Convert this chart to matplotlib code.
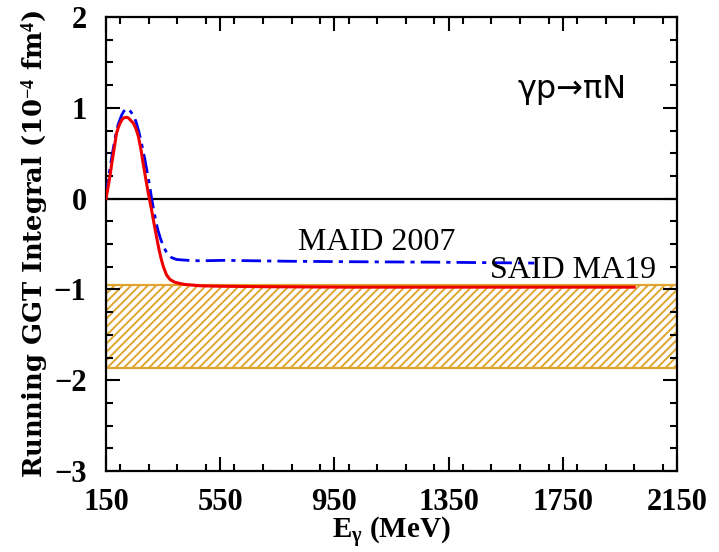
import numpy as np
import matplotlib
matplotlib.use('Agg')
import matplotlib.pyplot as plt
from matplotlib.patches import Rectangle
from matplotlib.ticker import MultipleLocator

plt.rcParams['mathtext.fontset'] = 'custom'
plt.rcParams['mathtext.rm'] = 'Liberation Serif:bold'
plt.rcParams['mathtext.bf'] = 'Liberation Serif:bold'
plt.rcParams['mathtext.it'] = 'Liberation Serif:bold'
plt.rcParams['hatch.linewidth'] = 1.4

# SAID MA19 (red, solid)
said_e = [150, 157, 164, 170, 176, 182, 187, 193, 199, 206, 213, 220, 228, 237, 246,
          255, 263, 272, 280, 286, 292, 297, 302, 310, 318, 327, 335, 343, 351, 362,
          374, 390, 409, 425, 444, 480, 550, 700, 1000, 1300, 1600, 2000]
said_v = [0.0, 0.12, 0.25, 0.38, 0.50, 0.62, 0.72, 0.78, 0.83, 0.87, 0.89, 0.895, 0.89,
          0.86, 0.83, 0.77, 0.69, 0.55, 0.39, 0.28, 0.17, 0.08, 0.0, -0.13, -0.27, -0.42,
          -0.55, -0.66, -0.75, -0.84, -0.89, -0.92, -0.935, -0.945, -0.95, -0.96, -0.965,
          -0.97, -0.975, -0.975, -0.975, -0.975]

# MAID 2007 (blue, dash-dot)
maid_e = [150, 154, 158, 164, 170, 176, 182, 188, 193, 199, 205, 212, 220, 228, 236,
          245, 255, 265, 275, 285, 295, 303, 310, 318, 326, 333, 342, 351, 360, 368,
          380, 397, 415, 438, 480, 561, 794, 1000, 1300, 1650]
maid_v = [0.0, 0.10, 0.21, 0.33, 0.45, 0.56, 0.67, 0.76, 0.82, 0.87, 0.92, 0.96, 0.99,
          0.985, 0.96, 0.92, 0.85, 0.74, 0.60, 0.45, 0.28, 0.14, 0.0, -0.14, -0.27, -0.36,
          -0.45, -0.525, -0.58, -0.62, -0.65, -0.67, -0.675, -0.68, -0.685, -0.68, -0.69,
          -0.695, -0.70, -0.71]

# hatched band (sum-rule value range)
band_lo, band_hi = -1.86, -0.947

xticks = [150, 550, 950, 1350, 1750, 2150]
yticks = [-3, -2, -1, 0, 1, 2]

fig = plt.figure(figsize=(7.19, 5.52), dpi=100)
ax = fig.add_axes([0.1474, 0.1467, 0.7942, 0.8225])

ax.add_patch(Rectangle((150, band_lo), 2000, band_hi - band_lo, facecolor='none',
                       edgecolor='#E0A530', hatch='////', lw=1.6, zorder=1))
ax.axhline(0, color='black', lw=1.6, zorder=2)
ax.plot(maid_e, maid_v, color='#0000EE', lw=2, dashes=(7, 2.2, 1.5, 2.2), zorder=3)
ax.plot(said_e, said_v, color='#EE0000', lw=2.2, zorder=4)

ax.text(822, -0.48, 'MAID 2007', family='Liberation Serif', fontsize=23, va='center')
ax.text(1495, -0.79, 'SAID MA19', family='Liberation Serif', fontsize=23, va='center')
ax.text(1590, 1.2, 'γp→πN', family='DejaVu Sans', fontsize=23, va='center')

ax.set_xlim(150, 2150)
ax.set_ylim(-3, 2)
ax.set_xticks(xticks)
ax.set_yticks(yticks)
ax.xaxis.set_minor_locator(MultipleLocator(100))
ax.yaxis.set_minor_locator(MultipleLocator(0.25))
ax.set_xticklabels([str(t) for t in xticks], family='Liberation Serif', fontweight='bold', fontsize=22)
ax.set_yticklabels([str(t).replace('-', '\u2212') for t in yticks], family='Liberation Serif',
                   fontweight='bold', fontsize=22)
ax.tick_params(which='both', direction='in', top=True, right=True, width=1.5)
ax.tick_params(which='major', length=10)
ax.tick_params(axis='x', which='major', pad=12)
ax.tick_params(axis='y', which='major', pad=14)
ax.tick_params(which='minor', length=5)
for s in ax.spines.values():
    s.set_linewidth(1.6)

ax.set_xlabel(r'E$_{\gamma}$ (MeV)', family='Liberation Serif', fontweight='bold',
              fontsize=21, labelpad=-1)
ax.set_ylabel('Running GGT Integral (10$^{-4}$ fm$^{4}$)', family='DejaVu Serif',
              fontweight='bold', fontsize=18.5, labelpad=2)

fig.savefig('out.png', dpi=100)
